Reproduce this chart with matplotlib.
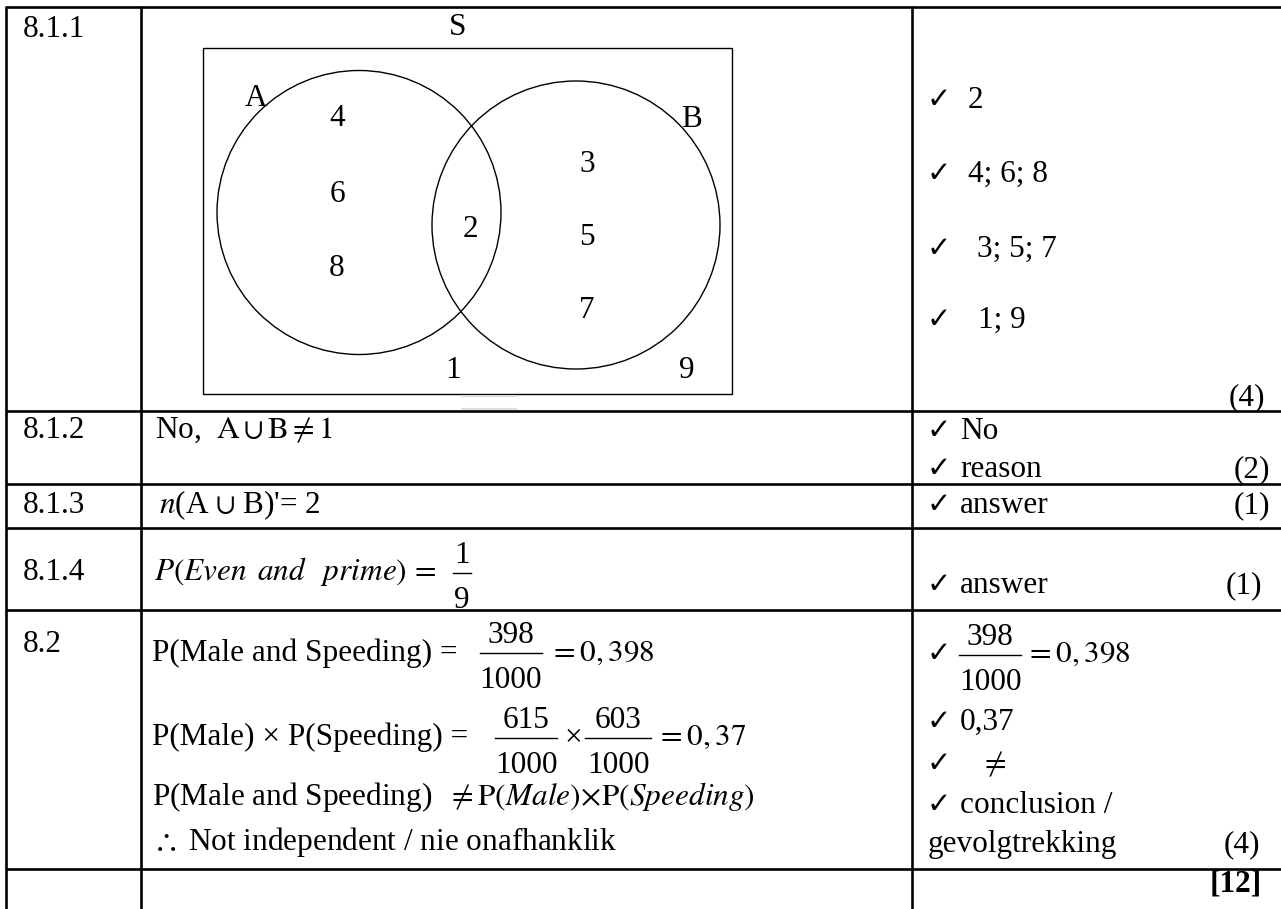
"""Memo table for question 8: Venn diagram plus marking scheme."""
import matplotlib
matplotlib.use("Agg")
import matplotlib.pyplot as plt
from matplotlib.patches import Circle, Rectangle

plt.rcParams['font.family'] = ['Liberation Serif', 'DejaVu Sans']
plt.rcParams['mathtext.fontset'] = 'stix'

# table content
question_numbers = ["8.1.1", "8.1.2", "8.1.3", "8.1.4", "8.2"]
marks = ["(4)", "(2)", "(1)", "(1)", "(4)"]
total = "[12]"

# Venn diagram elements
venn_only_a = ["4", "6", "8"]
venn_both = ["2"]
venn_only_b = ["3", "5", "7"]
venn_outside = ["1", "9"]

# memo column
memo_811 = ["2", "4; 6; 8", "3; 5; 7", "1; 9"]
memo_812 = ["No", "reason"]
memo_813 = "answer"
memo_814 = "answer"
memo_82 = ["0,37", r"$\neq$", "conclusion /", "gevolgtrekking"]

# answer column
answer_812 = r"No,  $\mathrm{A}\cup\mathrm{B}\neq 1$"
answer_813 = r"$n$(A $\cup$ B)'= 2"
answer_814 = r"$P(Even\ \,and\ \ \,prime)\,=$"
frac_814 = ("1", "9")
answer_82 = ["P(Male and Speeding) = ", "P(Male) \u00d7 P(Speeding) = ",
             r"P(Male and Speeding)  $\neq \mathrm{P}(Male)\!\times\!\mathrm{P}(Speeding)$",
             r"$\therefore$ Not independent / nie onafhanklik"]
frac_male_speeding = ("398", "1000")
frac_male = ("615", "1000")
frac_speeding = ("603", "1000")
result_82 = [r"$=0,398$", r"$=0,37$"]

W, H = 1281, 909
FS = 22.5

fig = plt.figure(figsize=(W / 100, H / 100), dpi=100)
ax = fig.add_axes([0, 0, 1, 1])
ax.set_xlim(0, W)
ax.set_ylim(H, 0)
ax.axis('off')


def txt(x, y, s, ha='left', size=FS, **kw):
    ax.text(x, y, s, ha=ha, va='baseline', fontsize=size, **kw)


def frac(xc, ybar, num, den, half):
    txt(xc, ybar - 10, num, ha='center')
    ax.plot([xc - half, xc + half], [ybar, ybar], color='black', lw=1.0)
    txt(xc, ybar + 35, den, ha='center')


def check(x, y):
    ax.text(x, y, "\u2713", ha='left', va='baseline', fontsize=21,
            family='DejaVu Sans', fontweight='bold')


# table grid
row_lines = [7, 411, 484, 528, 610, 869]
for y in row_lines:
    ax.plot([6, W], [y, y], color='black', lw=1.9, solid_capstyle='butt')
for x in [6, 141, 912]:
    ax.plot([x, x], [6, H], color='black', lw=1.9, solid_capstyle='butt')

# question numbers
for q, y in zip(question_numbers, [37, 438, 513, 580, 652]):
    txt(23, y, q)

# Venn diagram
ax.add_patch(Rectangle((203, 48), 529, 346, fill=False, ec='black', lw=1.0))
ax.add_patch(Circle((359, 212.5), 142, fill=False, ec='black', lw=1.0))
ax.add_patch(Circle((576, 225), 144, fill=False, ec='black', lw=1.0))
ax.plot([462, 516], [396, 396], color='#dddddd', lw=1.5)
ax.plot([462, 516], [409, 409], color='#dddddd', lw=1.5)
txt(458, 35, "S", ha='center')
txt(256, 106, "A", ha='center')
txt(692, 127, "B", ha='center')
for v, y in zip(venn_only_a, [126, 202, 276]):
    txt(337, y, v, ha='center')
txt(470, 237, venn_both[0], ha='center')
for v, y in zip(venn_only_b, [172, 245, 318]):
    txt(587, y, v, ha='center')
txt(453, 378, venn_outside[0], ha='center')
txt(687, 378, venn_outside[1], ha='center')

# memo for 8.1.1
for s, y, x in zip(memo_811, [108, 182, 257, 328], [968, 968, 977, 978]):
    check(927, y)
    txt(x, y, s)

# 8.1.2 - 8.1.4 answers
txt(155, 438, answer_812)
txt(159, 513, answer_813)
txt(154, 580, answer_814)
frac(462, 573, frac_814[0], frac_814[1], 9)

for s, y in zip(memo_812, [439, 477]):
    check(927, y)
    txt(960, y, s)
check(927, 513)
txt(960, 513, memo_813)
check(927, 593)
txt(960, 593, memo_814)

# 8.2 answer
txt(152, 661, answer_82[0])
frac(511, 653, frac_male_speeding[0], frac_male_speeding[1], 31)
txt(549, 661, result_82[0])
txt(152, 745, answer_82[1])
frac(526, 738, frac_male[0], frac_male[1], 31)
txt(565, 745, "\u00d7")
frac(618, 738, frac_speeding[0], frac_speeding[1], 33)
txt(656, 745, result_82[1])
txt(152, 805, answer_82[2])
txt(152, 850, answer_82[3])

# 8.2 memo
check(927, 662)
frac(990, 655, frac_male_speeding[0], frac_male_speeding[1], 31)
txt(1025, 662, result_82[0])
check(927, 730)
txt(960, 730, memo_82[0])
check(927, 772)
txt(980, 772, memo_82[1])
check(927, 813)
txt(960, 813, memo_82[2])
txt(928, 852, memo_82[3])

# marks
for m, x, y in zip(marks, [1265, 1270, 1270, 1262, 1260], [405, 477, 513, 593, 852]):
    txt(x, y, m, ha='right')
txt(1262, 892, total, ha='right', fontweight='bold')

plt.savefig("out.png", dpi=100)
